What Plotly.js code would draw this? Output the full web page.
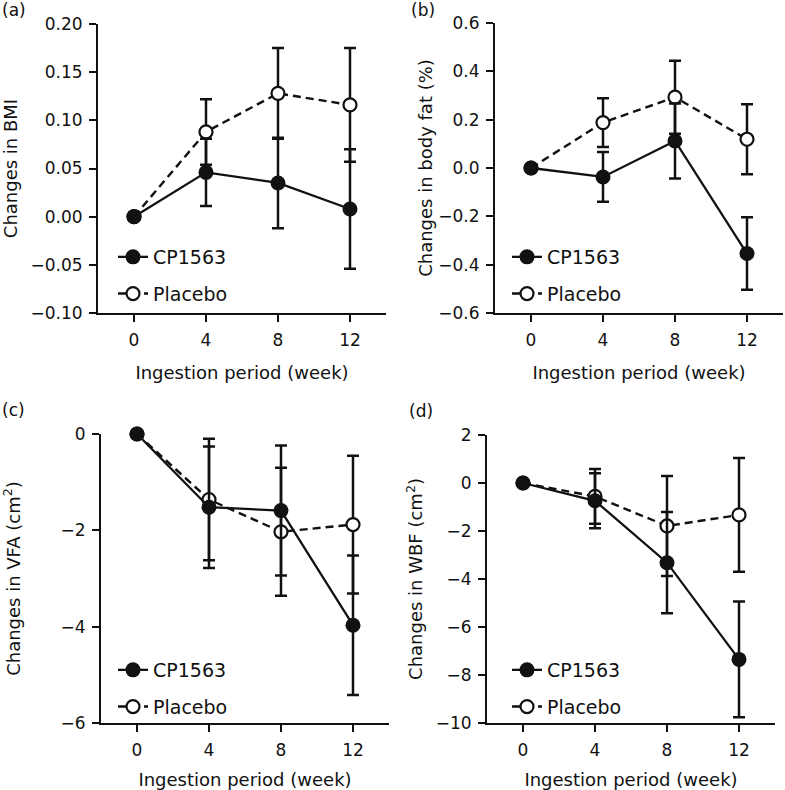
<!DOCTYPE html>
<html>
<head>
<meta charset="utf-8">
<script src="https://cdn.plot.ly/plotly-3.0.1.min.js"></script>
<style>html,body{margin:0;padding:0;background:#fff;}#chart{width:785px;height:790px;}</style>
</head>
<body>
<div id="chart"></div>
<script>
// ---- data ----
const weeks = [0, 4, 8, 12];
const weekTicks = [0, 4, 8, 12];
const seriesNames = ['CP1563', 'Placebo'];

const bmiCP = [0, 0.046, 0.035, 0.008];
const bmiCPse = [0, 0.035, 0.047, 0.062];
const bmiPL = [0, 0.088, 0.128, 0.116];
const bmiPLse = [0, 0.034, 0.047, 0.059];

const fatCP = [0, -0.037, 0.112, -0.354];
const fatCPse = [0, 0.103, 0.155, 0.150];
const fatPL = [0, 0.188, 0.293, 0.119];
const fatPLse = [0, 0.101, 0.151, 0.145];

const vfaCP = [0, -1.52, -1.59, -3.97];
const vfaCPse = [0, 1.26, 1.35, 1.45];
const vfaPL = [0, -1.36, -2.03, -1.88];
const vfaPLse = [0, 1.26, 1.33, 1.43];

const wbfCP = [0, -0.74, -3.32, -7.35];
const wbfCPse = [0, 1.15, 2.11, 2.41];
const wbfPL = [0, -0.56, -1.79, -1.33];
const wbfPLse = [0, 1.14, 2.08, 2.37];

const panelLabels = ['(a)', '(b)', '(c)', '(d)'];
const yTitles = ['Changes in BMI', 'Changes in body fat (%)', 'Changes in VFA (cm<sup>2</sup>)', 'Changes in WBF (cm<sup>2</sup>)'];
const xTitle = 'Ingestion period (week)';

// ---- style ----
const INK = '#111111';
const FONT = 'DejaVu Sans';

const panels = [
  {cp: bmiCP, cpse: bmiCPse, pl: bmiPL, plse: bmiPLse},
  {cp: fatCP, cpse: fatCPse, pl: fatPL, plse: fatPLse},
  {cp: vfaCP, cpse: vfaCPse, pl: vfaPL, plse: vfaPLse},
  {cp: wbfCP, cpse: wbfCPse, pl: wbfPL, plse: wbfPLse}
];

const traces = [];
panels.forEach((p, i) => {
  const n = i + 1;
  const xa = n === 1 ? 'x' : 'x' + n;
  const ya = n === 1 ? 'y' : 'y' + n;
  const lg = n === 1 ? 'legend' : 'legend' + n;
  traces.push({
    type: 'scatter', mode: 'lines+markers', name: seriesNames[1],
    x: weeks, y: p.pl, xaxis: xa, yaxis: ya, legend: lg, legendgroup: 'pl' + n, legendrank: 2,
    line: {color: INK, width: 2.4, dash: '8px,5px'},
    marker: {symbol: 'circle', size: 13, color: '#ffffff', line: {color: INK, width: 2.2}},
    error_y: {type: 'data', array: p.plse, visible: true, color: INK, thickness: 2.5, width: 6},
    cliponaxis: false
  });
  traces.push({
    type: 'scatter', mode: 'lines+markers', name: seriesNames[0],
    x: weeks, y: p.cp, xaxis: xa, yaxis: ya, legend: lg, legendgroup: 'cp' + n, legendrank: 1,
    line: {color: INK, width: 2.3},
    marker: {symbol: 'circle', size: 15, color: INK, line: {color: INK, width: 0}},
    error_y: {type: 'data', array: p.cpse, visible: true, color: INK, thickness: 2.5, width: 6},
    cliponaxis: false
  });
});

function xaxis(domain, anchor) {
  return {
    domain: domain, anchor: anchor, range: [-2, 14], tickvals: weekTicks,
    showline: true, linewidth: 2, linecolor: INK, ticks: 'outside', ticklen: 7, tickwidth: 2, tickcolor: INK,
    ticklabelstandoff: 4,
    showgrid: false, zeroline: false, tickfont: {family: FONT, size: 17, color: INK},
    title: {text: xTitle, font: {family: FONT, size: 18, color: INK}, standoff: 17}
  };
}
function yaxis(domain, anchor, range, dtick, fmt, title, standoff) {
  return {
    domain: domain, anchor: anchor, range: range, dtick: dtick, tick0: 0, tickformat: fmt,
    showline: true, linewidth: 2, linecolor: INK, ticks: 'outside', ticklen: 7, tickwidth: 2, tickcolor: INK,
    ticklabelstandoff: 3,
    showgrid: false, zeroline: false, tickfont: {family: FONT, size: 17, color: INK},
    title: {text: title, font: {family: FONT, size: 18, color: INK}, standoff: standoff}
  };
}
function legend(x, y) {
  return {
    x: x, y: y, xanchor: 'left', yanchor: 'top', bgcolor: 'rgba(0,0,0,0)',
    font: {family: FONT, size: 19, color: INK}, traceorder: 'grouped', tracegroupgap: 9,
    itemwidth: 30
  };
}

const W = 785, H = 790;
const px = v => v / W;
const py = v => 1 - v / H;

const layout = {
  width: W, height: H, autosize: false,
  margin: {l: 0, r: 0, t: 0, b: 0},
  paper_bgcolor: '#ffffff', plot_bgcolor: '#ffffff',
  font: {family: FONT, color: INK},
  xaxis: xaxis([px(98), px(386)], 'y'),
  yaxis: yaxis([py(313), py(24)], 'x', [-0.10, 0.20], 0.05, '.2f', yTitles[0], 8),
  xaxis2: xaxis([px(495), px(783)], 'y2'),
  yaxis2: yaxis([py(313), py(23)], 'x2', [-0.6, 0.6], 0.2, '.1f', yTitles[1], 1),
  xaxis3: xaxis([px(101), px(389)], 'y3'),
  yaxis3: yaxis([py(723), py(434)], 'x3', [-6, 0], 2, 'd', yTitles[2], 39),
  xaxis4: xaxis([px(487), px(775)], 'y4'),
  yaxis4: yaxis([py(723), py(435)], 'x4', [-10, 2], 2, 'd', yTitles[3], 8),
  legend: legend(px(113), py(238)),
  legend2: legend(px(507), py(238)),
  legend3: legend(px(113), py(651)),
  legend4: legend(px(507), py(651)),
  showlegend: true,
  annotations: [
    {text: panelLabels[0], x: px(0), y: py(10), xref: 'paper', yref: 'paper', xanchor: 'left', yanchor: 'middle', showarrow: false, font: {family: FONT, size: 17, color: INK}},
    {text: panelLabels[1], x: px(409), y: py(10), xref: 'paper', yref: 'paper', xanchor: 'left', yanchor: 'middle', showarrow: false, font: {family: FONT, size: 17, color: INK}},
    {text: panelLabels[2], x: px(0), y: py(410), xref: 'paper', yref: 'paper', xanchor: 'left', yanchor: 'middle', showarrow: false, font: {family: FONT, size: 17, color: INK}},
    {text: panelLabels[3], x: px(407), y: py(411), xref: 'paper', yref: 'paper', xanchor: 'left', yanchor: 'middle', showarrow: false, font: {family: FONT, size: 17, color: INK}}
  ]
};

Plotly.newPlot('chart', traces, layout, {displayModeBar: false, staticPlot: true});
</script>
</body>
</html>
